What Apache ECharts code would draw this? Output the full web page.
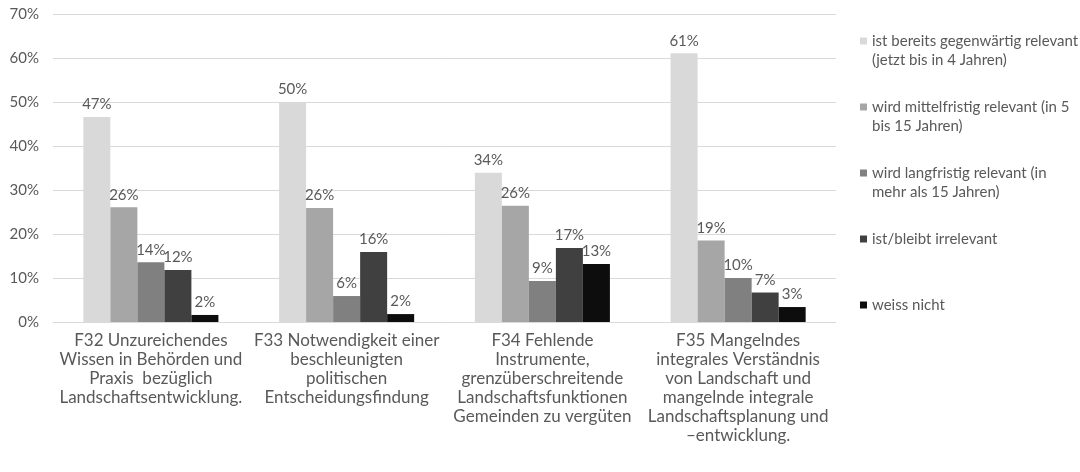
<!DOCTYPE html>
<html>
<head>
<meta charset="utf-8">
<script src="https://cdn.jsdelivr.net/npm/echarts@6/dist/echarts.min.js"></script>
<style>
  html, body { margin: 0; padding: 0; background: #fff; }
  #chart { width: 1080px; height: 472px; }
</style>
</head>
<body>
<div id="chart"></div>
<script>
var categories = [
  'F32 Unzureichendes\nWissen in Behörden und\nPraxis  bezüglich\nLandschaftsentwicklung.',
  'F33 Notwendigkeit einer\nbeschleunigten\npolitischen\nEntscheidungsfindung',
  'F34 Fehlende\nInstrumente,\ngrenzüberschreitende\nLandschaftsfunktionen\nGemeinden zu vergüten',
  'F35 Mangelndes\nintegrales Verständnis\nvon Landschaft und\nmangelnde integrale\nLandschaftsplanung und\n–entwicklung.'
];
var seriesNames = [
  'ist bereits gegenwärtig relevant (jetzt bis in 4 Jahren)',
  'wird mittelfristig relevant (in 5 bis 15 Jahren)',
  'wird langfristig relevant (in mehr als 15 Jahren)',
  'ist/bleibt irrelevant',
  'weiss nicht'
];
var legendLabels = [
  'ist bereits gegenwärtig relevant\n(jetzt bis in 4 Jahren)',
  'wird mittelfristig relevant (in 5\nbis 15 Jahren)',
  'wird langfristig relevant (in\nmehr als 15 Jahren)',
  'ist/bleibt irrelevant',
  'weiss nicht'
];
var colors = ['#d9d9d9', '#a6a6a6', '#808080', '#404040', '#0d0d0d'];
var jetzt = [46.6, 50.0, 33.9, 61.1];
var mittel = [26.1, 25.9, 26.4, 18.5];
var lang = [13.6, 5.9, 9.3, 10.0];
var irrelevant = [11.8, 15.9, 16.8, 6.7];
var weissNicht = [1.6, 1.8, 13.2, 3.4];
var values = [jetzt, mittel, lang, irrelevant, weissNicht];
var yTicks = [0, 10, 20, 30, 40, 50, 60, 70];

var chart = echarts.init(document.getElementById('chart'));
var font = 'Lato';
var textColor = '#595959';

// first text line of each legend entry sits level with its square
var legendTops = [7.5, 73.5, 139.5, 224.5, 290.5];
var legends = [];
for (var i = 0; i < seriesNames.length; i++) {
  var label = legendLabels[i];
  if (label.indexOf('\n') >= 0) {
    label = ' \n' + label; // blank line above so line 1 centres on the icon
  }
  legends.push({
    show: true,
    orient: 'vertical',
    left: 855,
    top: legendTops[i],
    icon: 'rect',
    itemWidth: 7,
    itemHeight: 7,
    data: [seriesNames[i]],
    formatter: (function (t) { return function () { return t; }; })(label),
    textStyle: {
      color: textColor,
      fontFamily: font,
      fontSize: 15,
      lineHeight: 19
    }
  });
}

var series = [];
for (var s = 0; s < seriesNames.length; s++) {
  series.push({
    name: seriesNames[s],
    type: 'bar',
    data: values[s],
    barGap: '0%',
    barCategoryGap: '31%',
    itemStyle: { color: colors[s] },
    label: {
      show: true,
      position: 'top',
      distance: 5,
      color: textColor,
      fontFamily: font,
      fontSize: 15,
      formatter: function (p) { return Math.round(p.value) + '%'; }
    }
  });
}

var option = {
  backgroundColor: '#fff',
  animation: false,
  color: colors,
  legend: legends,
  grid: { left: 53, right: 244, top: 14, bottom: 150 },
  xAxis: {
    type: 'category',
    data: categories,
    axisLine: { lineStyle: { color: '#d9d9d9', width: 1 } },
    axisTick: { show: false },
    axisLabel: {
      color: textColor,
      fontFamily: font,
      fontSize: 17,
      lineHeight: 19,
      margin: 9,
      interval: 0
    }
  },
  yAxis: {
    type: 'value',
    min: yTicks[0],
    max: yTicks[yTicks.length - 1],
    interval: 10,
    axisLine: { show: false },
    axisTick: { show: false },
    splitLine: { lineStyle: { color: '#d9d9d9', width: 1 } },
    axisLabel: {
      color: textColor,
      fontFamily: font,
      fontSize: 15,
      margin: 14,
      formatter: '{value}%'
    }
  },
  series: series
};

chart.setOption(option);
window.addEventListener('resize', function () {
  chart.resize();
});
</script>
</body>
</html>
